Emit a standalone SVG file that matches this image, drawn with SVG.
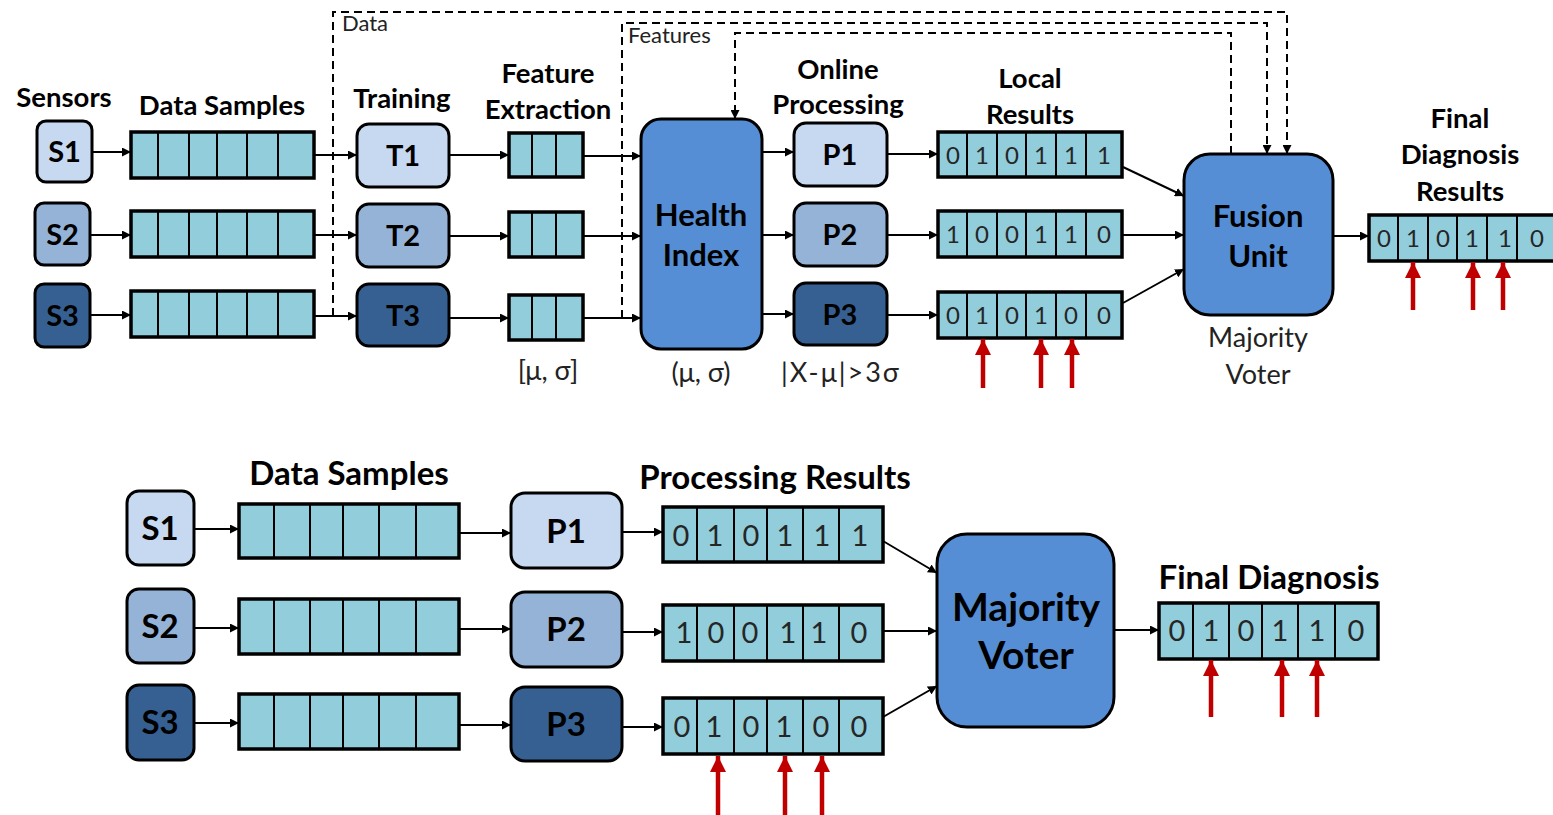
<svg xmlns="http://www.w3.org/2000/svg" width="1553" height="815" viewBox="0 0 1553 815">
  <defs>
    <marker id="arr" viewBox="0 0 10 10" refX="10" refY="5" markerWidth="9" markerHeight="9" markerUnits="userSpaceOnUse" orient="auto">
      <path d="M0,0 L10,5 L0,10 z" fill="#000"/>
    </marker>
    <marker id="redarr" viewBox="0 0 10 10" refX="10" refY="5" markerWidth="16" markerHeight="16" markerUnits="userSpaceOnUse" orient="auto">
      <path d="M0,0 L10,5 L0,10 z" fill="#c00000"/>
    </marker>
    <style>
      .box{stroke:#000;stroke-width:3}
      .c1{fill:#c6d9f1}
      .c2{fill:#95b3d7}
      .c3{fill:#366092}
      .big{fill:#558ed5}
      .cells{fill:#92cddc;stroke:#000;stroke-width:3.5}
      .div{stroke:#000;stroke-width:2}
      .conn{stroke:#000;stroke-width:2;fill:none;marker-end:url(#arr)}
      .dash{stroke:#000;stroke-width:2;fill:none;stroke-dasharray:8 5}
      .red{stroke:#c00000;stroke-width:4.5;fill:none;marker-end:url(#redarr)}
      text{font-family:Lato,"Liberation Sans",sans-serif;fill:#000;text-anchor:middle}
      .hd{font-weight:bold;font-size:27.5px}
      .nd{font-weight:bold;font-size:29px}
      .ndb{font-weight:bold;font-size:33px}
      .bigt{font-weight:bold;font-size:31px}
      .hdb{font-weight:bold;font-size:33px}
      .note{font-size:27px;fill:#222}
      .dig{font-size:24px;fill:#262626}
      .digb{font-size:29px;fill:#262626}
      .small{font-size:22px;fill:#222;text-anchor:start}
    </style>
  </defs>

  <!-- upper pipeline: column headings -->
  <g id="headings-top">
    <text class="hd" x="64" y="107">Sensors</text>
    <text class="hd" x="222" y="115">Data Samples</text>
    <text class="hd" x="402" y="108">Training</text>
    <text class="hd" x="548" y="83">Feature</text>
    <text class="hd" x="548" y="119">Extraction</text>
    <text class="hd" x="838" y="79">Online</text>
    <text class="hd" x="838" y="114">Processing</text>
    <text class="hd" x="1030" y="88">Local</text>
    <text class="hd" x="1030" y="124">Results</text>
    <text class="hd" x="1460" y="128">Final</text>
    <text class="hd" x="1460" y="164">Diagnosis</text>
    <text class="hd" x="1460" y="201">Results</text>
    <text class="small" x="342" y="31">Data</text>
    <text class="small" x="628" y="43">Features</text>
  </g>

  <!-- connectors -->
  <g id="connectors">
    <!-- upper pipeline -->
    <line class="conn" x1="92" y1="152" x2="131" y2="152"/>
    <line class="conn" x1="90" y1="235" x2="131" y2="235"/>
    <line class="conn" x1="90" y1="315" x2="131" y2="315"/>
    <line class="conn" x1="314" y1="155" x2="357" y2="155"/>
    <line class="conn" x1="314" y1="235" x2="357" y2="235"/>
    <line class="conn" x1="314" y1="316" x2="357" y2="316"/>
    <line class="conn" x1="449" y1="155" x2="509" y2="155"/>
    <line class="conn" x1="449" y1="236" x2="509" y2="236"/>
    <line class="conn" x1="449" y1="318" x2="509" y2="318"/>
    <line class="conn" x1="583" y1="156" x2="641" y2="156"/>
    <line class="conn" x1="583" y1="236" x2="641" y2="236"/>
    <line class="conn" x1="583" y1="318" x2="641" y2="318"/>
    <line class="conn" x1="762" y1="152" x2="794" y2="152"/>
    <line class="conn" x1="762" y1="235" x2="794" y2="235"/>
    <line class="conn" x1="762" y1="314" x2="794" y2="314"/>
    <line class="conn" x1="887" y1="154" x2="938" y2="154"/>
    <line class="conn" x1="887" y1="235" x2="938" y2="235"/>
    <line class="conn" x1="887" y1="315" x2="938" y2="315"/>
    <line class="conn" x1="1123" y1="167" x2="1184" y2="196"/>
    <line class="conn" x1="1123" y1="235" x2="1184" y2="235"/>
    <line class="conn" x1="1123" y1="303" x2="1184" y2="269"/>
    <line class="conn" x1="1333" y1="236" x2="1369" y2="236"/>
    <!-- dashed data / feature / feedback paths -->
    <path class="dash" d="M333,316 V12 H1287 V146"/>
    <path d="M1287,146 V154" stroke="#000" stroke-width="2" marker-end="url(#arr)"/>
    <path class="dash" d="M622,318 V23 H1267 V146"/>
    <path d="M1267,146 V154" stroke="#000" stroke-width="2" marker-end="url(#arr)"/>
    <path class="dash" d="M1231,154 V33 H735 V111"/>
    <path d="M735,111 V119" stroke="#000" stroke-width="2" marker-end="url(#arr)"/>
    <!-- lower pipeline -->
    <line class="conn" x1="194" y1="529" x2="239" y2="529"/>
    <line class="conn" x1="194" y1="628" x2="239" y2="628"/>
    <line class="conn" x1="194" y1="723" x2="239" y2="723"/>
    <line class="conn" x1="459" y1="533" x2="511" y2="533"/>
    <line class="conn" x1="459" y1="629" x2="511" y2="629"/>
    <line class="conn" x1="459" y1="725" x2="511" y2="725"/>
    <line class="conn" x1="622" y1="532" x2="663" y2="532"/>
    <line class="conn" x1="622" y1="632" x2="663" y2="632"/>
    <line class="conn" x1="622" y1="727" x2="663" y2="727"/>
    <line class="conn" x1="883" y1="541" x2="937" y2="573"/>
    <line class="conn" x1="883" y1="631" x2="937" y2="631"/>
    <line class="conn" x1="883" y1="717" x2="937" y2="686"/>
    <line class="conn" x1="1114" y1="630" x2="1159" y2="630"/>
  </g>

  <!-- sensors (upper) -->
  <g id="s1-top"><rect class="box c1" x="37" y="121" width="55" height="61" rx="9"/><text class="nd" x="64.5" y="162">S1</text></g>
  <g id="s2-top"><rect class="box c2" x="35" y="203" width="55" height="62" rx="9"/><text class="nd" x="62.5" y="245">S2</text></g>
  <g id="s3-top"><rect class="box c3" x="35" y="284" width="55" height="63" rx="9"/><text class="nd" x="62.5" y="326">S3</text></g>

  <!-- data sample buffers (upper) -->
  <g id="ds1-top"><rect class="cells" x="131" y="132" width="183" height="46"/><path class="div" d="M158,132V178M189,132V178M217,132V178M247,132V178M278,132V178"/></g>
  <g id="ds2-top"><rect class="cells" x="131" y="211" width="183" height="46"/><path class="div" d="M158,211V257M189,211V257M217,211V257M247,211V257M278,211V257"/></g>
  <g id="ds3-top"><rect class="cells" x="131" y="291" width="183" height="46"/><path class="div" d="M158,291V337M189,291V337M217,291V337M247,291V337M278,291V337"/></g>

  <!-- training -->
  <g id="t1"><rect class="box c1" x="357" y="124" width="92" height="63" rx="12"/><text class="nd" x="403" y="166">T1</text></g>
  <g id="t2"><rect class="box c2" x="357" y="204" width="92" height="63" rx="12"/><text class="nd" x="403" y="246">T2</text></g>
  <g id="t3"><rect class="box c3" x="357" y="284" width="92" height="62" rx="12"/><text class="nd" x="403" y="326">T3</text></g>

  <!-- feature extraction -->
  <g id="fe1"><rect class="cells" x="509" y="133" width="74" height="44"/><path class="div" d="M532,133V177M556,133V177"/></g>
  <g id="fe2"><rect class="cells" x="509" y="212" width="74" height="45"/><path class="div" d="M532,212V257M556,212V257"/></g>
  <g id="fe3"><rect class="cells" x="509" y="295" width="74" height="45"/><path class="div" d="M532,295V340M556,295V340"/><text class="note" x="548" y="380">[μ, σ]</text></g>

  <!-- health index -->
  <g id="health-index">
    <rect class="box big" x="641" y="119" width="121" height="230" rx="20"/>
    <text class="bigt" x="701" y="226">Health</text>
    <text class="bigt" x="701" y="266">Index</text>
    <text class="note" x="701" y="382">(μ, σ)</text>
  </g>

  <!-- online processing -->
  <g id="p1-top"><rect class="box c1" x="794" y="123" width="93" height="63" rx="12"/><text class="nd" x="840" y="165">P1</text></g>
  <g id="p2-top"><rect class="box c2" x="794" y="203" width="93" height="63" rx="12"/><text class="nd" x="840" y="245">P2</text></g>
  <g id="p3-top"><rect class="box c3" x="794" y="283" width="93" height="62" rx="12"/><text class="nd" x="840" y="325">P3</text><text class="note" x="841" y="382" style="letter-spacing:2px">|X-μ|&gt;3σ</text></g>

  <!-- local results -->
  <g id="lr1">
    <rect class="cells" x="938" y="132" width="184" height="45"/>
    <path class="div" d="M967,132V177M997,132V177M1026,132V177M1056,132V177M1086,132V177"/>
    <text class="dig" x="953" y="164">0</text><text class="dig" x="982" y="164">1</text><text class="dig" x="1012" y="164">0</text><text class="dig" x="1041" y="164">1</text><text class="dig" x="1071" y="164">1</text><text class="dig" x="1104" y="164">1</text>
  </g>
  <g id="lr2">
    <rect class="cells" x="938" y="211" width="184" height="46"/>
    <path class="div" d="M967,211V257M997,211V257M1026,211V257M1056,211V257M1086,211V257"/>
    <text class="dig" x="953" y="243">1</text><text class="dig" x="982" y="243">0</text><text class="dig" x="1012" y="243">0</text><text class="dig" x="1041" y="243">1</text><text class="dig" x="1071" y="243">1</text><text class="dig" x="1104" y="243">0</text>
  </g>
  <g id="lr3">
    <rect class="cells" x="938" y="292" width="184" height="46"/>
    <path class="div" d="M967,292V338M997,292V338M1026,292V338M1056,292V338M1086,292V338"/>
    <text class="dig" x="953" y="324">0</text><text class="dig" x="982" y="324">1</text><text class="dig" x="1012" y="324">0</text><text class="dig" x="1041" y="324">1</text><text class="dig" x="1071" y="324">0</text><text class="dig" x="1104" y="324">0</text>
    <line class="red" x1="983" y1="388" x2="983" y2="339"/>
    <line class="red" x1="1041" y1="388" x2="1041" y2="339"/>
    <line class="red" x1="1072" y1="388" x2="1072" y2="339"/>
  </g>

  <!-- fusion unit -->
  <g id="fusion-unit">
    <rect class="box big" x="1184" y="154" width="149" height="161" rx="26"/>
    <text class="bigt" x="1258" y="227">Fusion</text>
    <text class="bigt" x="1258" y="267">Unit</text>
    <text class="note" x="1258" y="347">Majority</text>
    <text class="note" x="1258" y="384">Voter</text>
  </g>

  <!-- final diagnosis results (upper) -->
  <g id="final-top">
    <rect class="cells" x="1369" y="215" width="186" height="46"/>
    <path class="div" d="M1398,215V261M1428,215V261M1457,215V261M1487,215V261M1517,215V261"/>
    <text class="dig" x="1384" y="247">0</text><text class="dig" x="1413" y="247">1</text><text class="dig" x="1443" y="247">0</text><text class="dig" x="1472" y="247">1</text><text class="dig" x="1505" y="247">1</text><text class="dig" x="1537" y="247">0</text>
    <line class="red" x1="1413" y1="310" x2="1413" y2="262"/>
    <line class="red" x1="1473" y1="310" x2="1473" y2="262"/>
    <line class="red" x1="1503" y1="310" x2="1503" y2="262"/>
  </g>

  <!-- lower pipeline: headings -->
  <g id="headings-bottom">
    <text class="hdb" x="349" y="485">Data Samples</text>
    <text class="hdb" x="775" y="489">Processing Results</text>
    <text class="hdb" x="1269" y="589">Final Diagnosis</text>
  </g>

  <!-- sensors (lower) -->
  <g id="s1-bottom"><rect class="box c1" x="127" y="491" width="67" height="74" rx="12"/><text class="ndb" x="160" y="540">S1</text></g>
  <g id="s2-bottom"><rect class="box c2" x="127" y="589" width="67" height="74" rx="12"/><text class="ndb" x="160" y="638">S2</text></g>
  <g id="s3-bottom"><rect class="box c3" x="127" y="685" width="67" height="75" rx="12"/><text class="ndb" x="160" y="734">S3</text></g>

  <!-- data sample buffers (lower) -->
  <g id="ds1-bottom"><rect class="cells" x="239" y="504" width="220" height="54"/><path class="div" d="M274,504V558M310,504V558M343,504V558M379,504V558M416,504V558"/></g>
  <g id="ds2-bottom"><rect class="cells" x="239" y="599" width="220" height="55"/><path class="div" d="M274,599V654M310,599V654M343,599V654M379,599V654M416,599V654"/></g>
  <g id="ds3-bottom"><rect class="cells" x="239" y="694" width="220" height="55"/><path class="div" d="M274,694V749M310,694V749M343,694V749M379,694V749M416,694V749"/></g>

  <!-- processing (lower) -->
  <g id="p1-bottom"><rect class="box c1" x="511" y="493" width="111" height="75" rx="14"/><text class="ndb" x="566" y="543">P1</text></g>
  <g id="p2-bottom"><rect class="box c2" x="511" y="592" width="111" height="75" rx="14"/><text class="ndb" x="566" y="641">P2</text></g>
  <g id="p3-bottom"><rect class="box c3" x="511" y="687" width="111" height="74" rx="14"/><text class="ndb" x="566" y="736">P3</text></g>

  <!-- processing results (lower) -->
  <g id="pr1">
    <rect class="cells" x="663" y="507" width="220" height="55"/>
    <path class="div" d="M697,507V562M734,507V562M767,507V562M803,507V562M839,507V562"/>
    <text class="digb" x="681" y="546">0</text><text class="digb" x="715" y="546">1</text><text class="digb" x="751" y="546">0</text><text class="digb" x="785" y="546">1</text><text class="digb" x="822" y="546">1</text><text class="digb" x="860" y="546">1</text>
  </g>
  <g id="pr2">
    <rect class="cells" x="663" y="605" width="220" height="56"/>
    <path class="div" d="M697,605V661M734,605V661M767,605V661M803,605V661M839,605V661"/>
    <text class="digb" x="684" y="643">1</text><text class="digb" x="716" y="643">0</text><text class="digb" x="750" y="643">0</text><text class="digb" x="788" y="643">1</text><text class="digb" x="819" y="643">1</text><text class="digb" x="859" y="643">0</text>
  </g>
  <g id="pr3">
    <rect class="cells" x="663" y="698" width="220" height="56"/>
    <path class="div" d="M697,698V754M734,698V754M767,698V754M803,698V754M839,698V754"/>
    <text class="digb" x="682" y="737">0</text><text class="digb" x="714" y="737">1</text><text class="digb" x="751" y="737">0</text><text class="digb" x="784" y="737">1</text><text class="digb" x="821" y="737">0</text><text class="digb" x="859" y="737">0</text>
    <line class="red" x1="718" y1="815" x2="718" y2="756"/>
    <line class="red" x1="785" y1="815" x2="785" y2="756"/>
    <line class="red" x1="822" y1="815" x2="822" y2="756"/>
  </g>

  <!-- majority voter -->
  <g id="majority-voter">
    <rect class="box big" x="937" y="534" width="177" height="193" rx="30"/>
    <text x="1026" y="621" style="font-weight:bold;font-size:39px">Majority</text>
    <text x="1026" y="669" style="font-weight:bold;font-size:39px">Voter</text>
  </g>

  <!-- final diagnosis (lower) -->
  <g id="final-bottom">
    <rect class="cells" x="1159" y="603" width="219" height="56"/>
    <path class="div" d="M1193,603V659M1229,603V659M1262,603V659M1298,603V659M1335,603V659"/>
    <text class="digb" x="1177" y="641">0</text><text class="digb" x="1211" y="641">1</text><text class="digb" x="1246" y="641">0</text><text class="digb" x="1280" y="641">1</text><text class="digb" x="1317" y="641">1</text><text class="digb" x="1356" y="641">0</text>
    <line class="red" x1="1211" y1="717" x2="1211" y2="660"/>
    <line class="red" x1="1282" y1="717" x2="1282" y2="660"/>
    <line class="red" x1="1317" y1="717" x2="1317" y2="660"/>
  </g>
</svg>
